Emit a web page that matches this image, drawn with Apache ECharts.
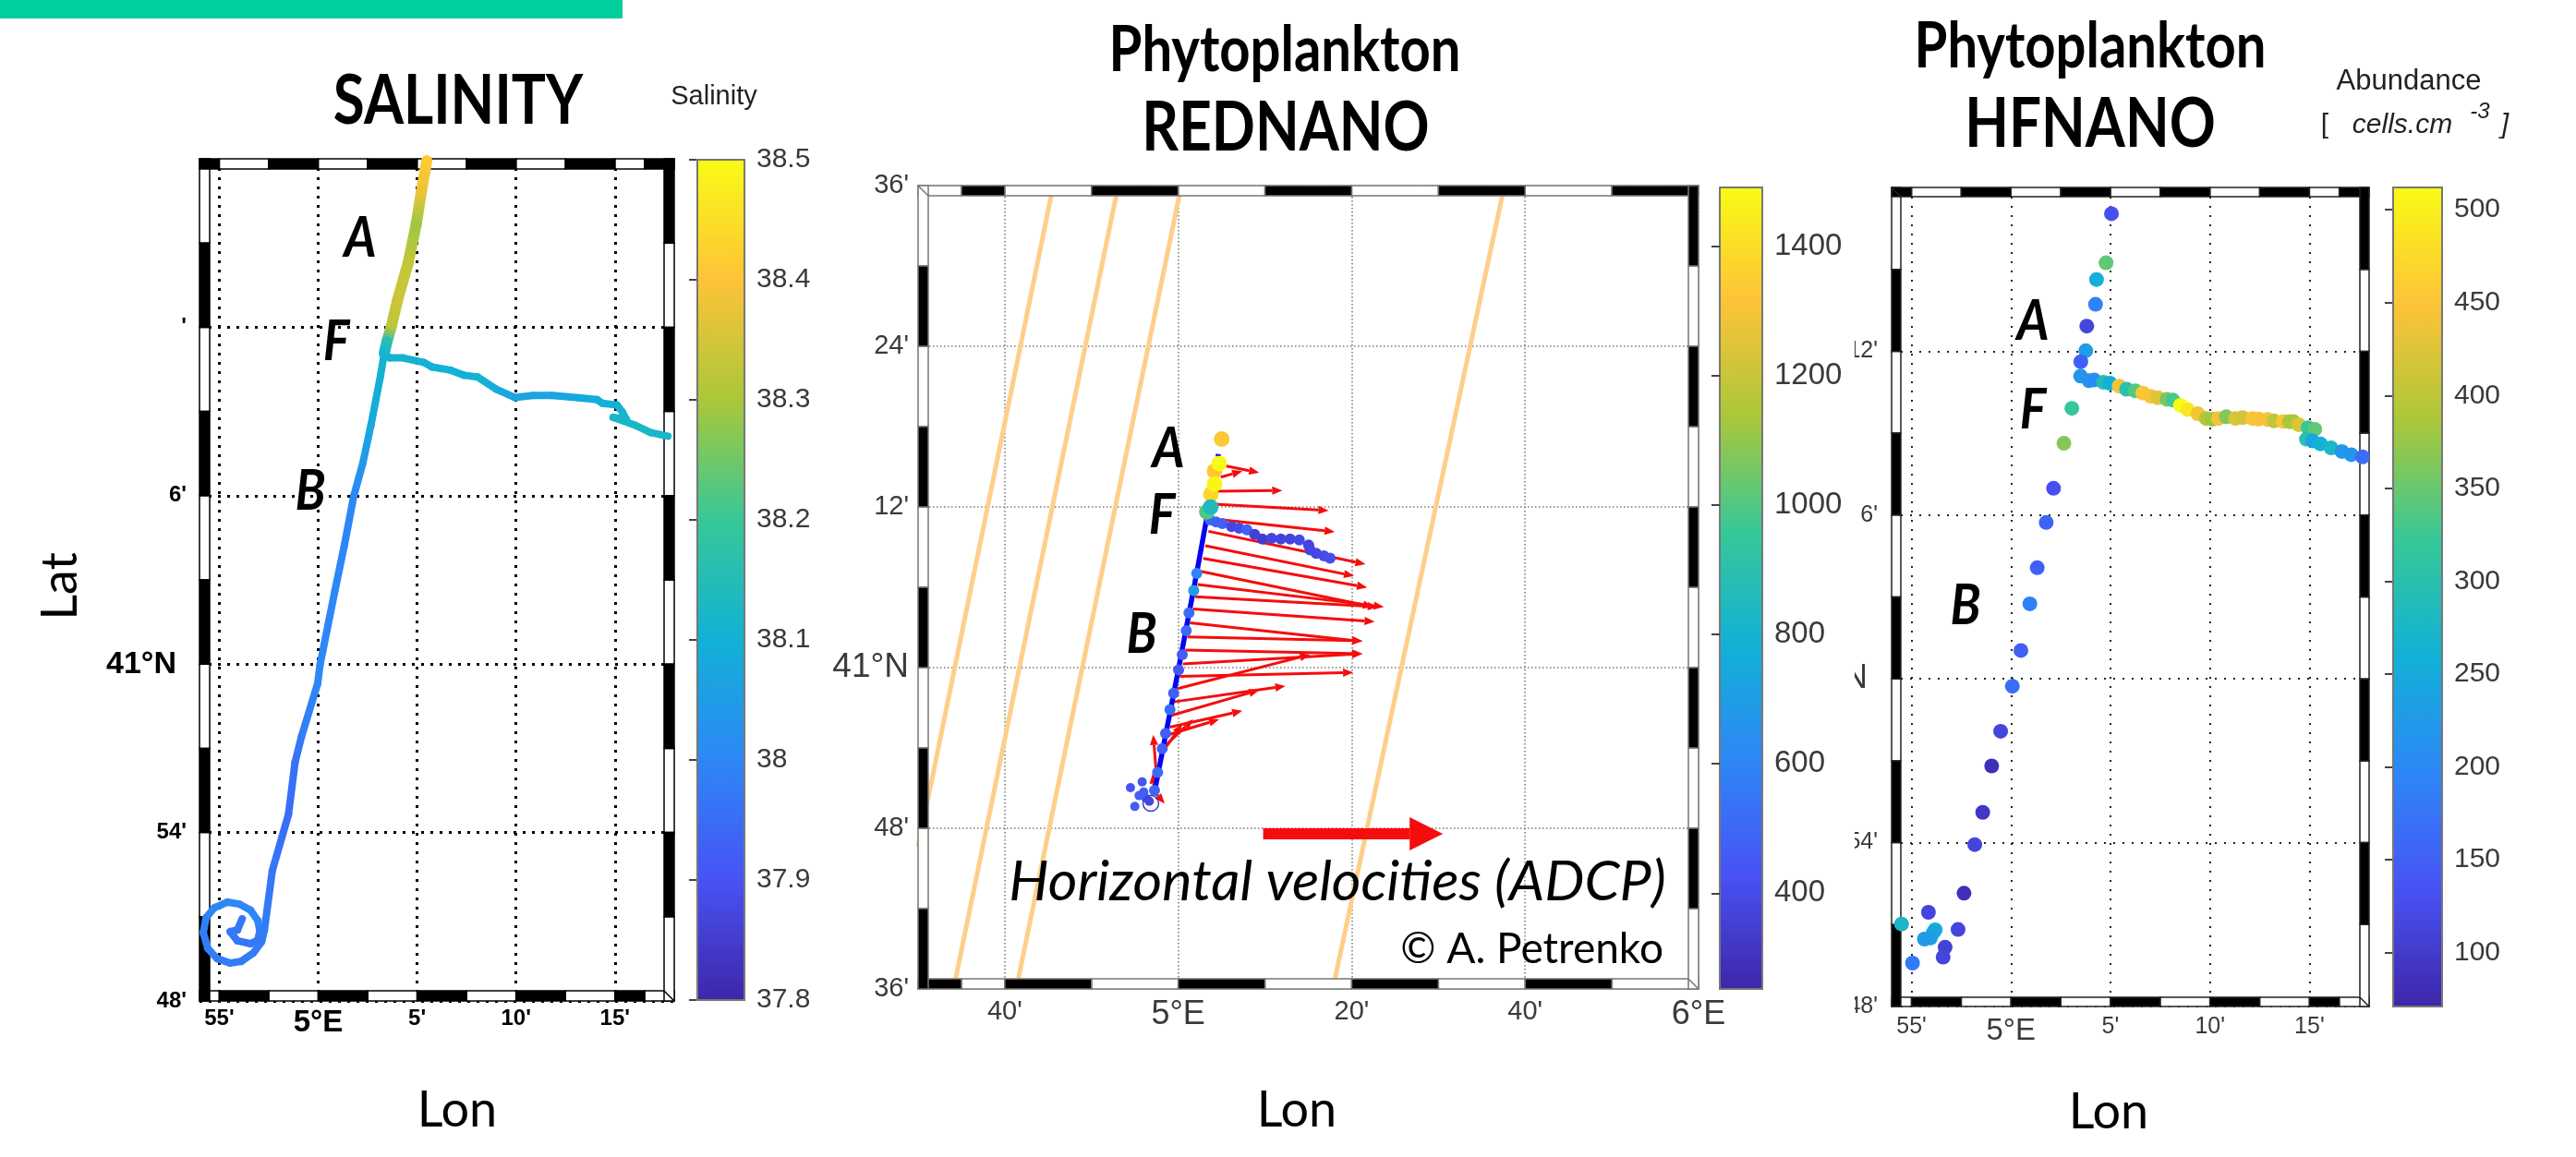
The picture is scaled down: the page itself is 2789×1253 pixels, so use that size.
<!DOCTYPE html>
<html>
<head>
<meta charset="utf-8">
<style>
  html, body { margin: 0; padding: 0; background: #fff; }
  #chart { width: 2789px; height: 1253px; }
</style>
<script src="https://cdn.jsdelivr.net/npm/echarts@6/dist/echarts.min.js"></script>
</head>
<body>
<div id="chart"></div>
<script>
// positions are minutes of arc from 5°E / 41°N

const parulaStops = ["#3e26a8", "#4852f4", "#2d87f7", "#12b1d6", "#37c897", "#abc739", "#fec338", "#f9fb15"];

// --- SALINITY panel
const salLonRange = [-6, 18];
const salLatRange = [-12, 18];
const salRange = [37.8, 38.5];
const salLonTicks = [-5, 0, 5, 10, 15];
const salLonLabels = ["55'", "5°E", "5'", "10'", "15'"];
const salLatTicks = [-12, -6, 0, 6, 12];
const salLatLabels = ["48'", "54'", "41°N", "6'", "'"];
const salLonStripes = [-6, -5, -2.5, 0, 2.5, 5, 7.5, 10, 12.5, 15, 16.5, 18];
const salLatStripes = [-12, -9, -6, -3, 0, 3, 6, 9, 12, 15, 18];
const salBarTicks = [37.8, 37.9, 38, 38.1, 38.2, 38.3, 38.4, 38.5];
// [lon, lat, salinity]
const salLegA = [
  [5.49, 17.93, 38.41], [5.22, 16.85, 38.38], [4.95, 15.65, 38.29], [4.55, 14.3, 38.33],
  [4.01, 12.96, 38.34], [3.69, 12.0, 38.32], [3.47, 11.48, 38.16], [3.34, 11.07, 38.11],
];
const salLegB = [
  [3.34, 11.07, 38.11], [3.15, 10.27, 38.1], [2.67, 8.52, 38.08], [2.26, 7.17, 38.04],
  [1.8, 5.99, 38.0], [1.32, 4.22, 38.0], [0.85, 2.63, 38.0], [0.1, 0.0, 38.0],
  [-0.03, -0.7, 38.0], [-0.84, -2.57, 37.98], [-1.17, -3.5, 37.96], [-1.5, -5.35, 37.95],
  [-2.32, -7.36, 37.97], [-2.72, -9.48, 37.98], [-2.86, -9.89, 37.98], [-3.28, -10.29, 37.98],
  [-3.89, -10.59, 37.98], [-4.45, -10.65, 37.98], [-5.11, -10.49, 37.98], [-5.58, -10.13, 37.98],
  [-5.81, -9.57, 37.98], [-5.67, -9.04, 37.99], [-5.25, -8.68, 38.0], [-4.59, -8.48, 38.0],
  [-3.98, -8.55, 38.0], [-3.42, -8.77, 38.0], [-3.05, -9.14, 38.0], [-2.95, -9.5, 37.98],
  [-3.05, -9.83, 37.97], [-3.42, -9.96, 37.97], [-4.08, -9.86, 37.97], [-4.45, -9.53, 37.97],
  [-4.08, -9.47, 37.97], [-3.84, -9.07, 37.97],
];
const salLegF = [
  [3.34, 11.07, 38.11], [3.61, 10.91, 38.11], [4.28, 10.91, 38.11], [5.36, 10.74, 38.1],
  [5.76, 10.58, 38.1], [6.7, 10.47, 38.1], [7.38, 10.29, 38.1], [8.05, 10.23, 38.11],
  [8.99, 9.8, 38.09], [9.93, 9.5, 38.07], [10.87, 9.57, 38.07], [11.82, 9.57, 38.07],
  [13.16, 9.49, 38.08], [14.1, 9.42, 38.09], [14.37, 9.29, 38.1], [15.1, 9.23, 38.1],
  [15.37, 8.99, 38.11], [15.58, 8.72, 38.12], [14.91, 8.79, 38.12], [15.99, 8.52, 38.12],
  [16.8, 8.25, 38.12], [17.68, 8.12, 38.12],
];

// --- REDNANO panel
const redLonRange = [-30, 60];
const redLatRange = [-24, 36];
const redRange = [252, 1491];
const redLonTicks = [-20, 0, 20, 40, 60];
const redLonLabels = ["40'", "5°E", "20'", "40'", "6°E"];
const redLatTicks = [-24, -12, 0, 12, 24, 36];
const redLatLabels = ["36'", "48'", "41°N", "12'", "24'", "36'"];
const redLonStripes = [-30, -25, -20, -10, 0, 10, 20, 30, 40, 50, 60];
const redLatStripes = [-24, -18, -12, -6, 0, 6, 12, 18, 24, 30, 36];
const redBarTicks = [400, 600, 800, 1000, 1200, 1400];
// ship tracks, [lon0, lat0, lon1, lat1]
const shipTracks = [
  [-14.57, 35.5, -30, -13.4],
  [-7.08, 35.5, -25.66, -23.2],
  [0.2, 35.5, -18.43, -23.2],
  [37.45, 35.5, 18.08, -23.2],
];
// ADCP arrows, [lon0, lat0, lon1, lat1]
const velocityArrows = [
  [5.44, 15.07, 9.34, 14.56], [4.9, 14.22, 7.39, 14.68], [4.62, 13.18, 12.01, 13.23],
  [4.19, 12.21, 17.34, 11.73], [5.08, 11.04, 18.05, 10.14], [3.48, 10.18, 21.6, 7.72],
  [3.13, 9.1, 20.28, 6.84], [2.88, 8.16, 21.78, 5.99], [2.59, 7.19, 22.49, 4.54],
  [2.24, 6.2, 23.73, 4.54], [1.95, 5.3, 23.02, 4.54], [1.71, 4.38, 22.66, 3.43],
  [1.35, 3.34, 21.24, 1.96], [1.07, 2.3, 21.24, 2.0], [0.82, 1.31, 21.24, 1.04],
  [0.53, 0.28, 21.24, 1.04], [0.18, -0.65, 20.18, -0.37], [-0.07, -1.57, 15.2, 0.97],
  [-0.53, -2.56, 12.36, -1.38], [-0.78, -3.57, 9.34, -1.68], [-0.96, -4.45, 7.39, -3.23],
  [-1.14, -5.02, 4.72, -3.87], [-1.49, -5.83, 1.71, -3.87], [-1.67, -6.18, 0.46, -4.22],
  [-2.56, -7.67, -2.88, -5.02], [-2.74, -9.29, -2.95, -7.9], [-2.74, -9.29, -1.56, -10.16],
];
const scaleArrow = [[9.79, -12.41, 30.52, -12.41]];
const redTrackLine = [[4.65, 15.94], [3.3, 11.22], [2.13, 7.07], [0.04, -0.07], [-2.74, -9.29]];
// [lon, lat, abundance]
const redTopDots = [
  [5.01, 17.07, 1330], [4.19, 14.68, 1330], [4.72, 15.25, 1490], [3.77, 12.95, 1370],
  [4.19, 13.71, 1470], [3.3, 11.64, 1000], [3.73, 11.98, 850],
];
const redEastDots = [
  [3.66, 11.04, 500], [4.37, 10.88, 480], [5.08, 10.76, 470], [6.15, 10.53, 380],
  [7.03, 10.41, 400], [7.92, 10.3, 480], [8.81, 9.95, 360], [9.7, 9.61, 340],
  [10.76, 9.65, 380], [11.83, 9.61, 370], [12.9, 9.61, 375], [13.96, 9.54, 390],
  [15.03, 9.15, 370], [15.2, 8.8, 380], [15.91, 8.53, 390], [16.8, 8.34, 400], [17.51, 8.18, 410],
];
const redSouthDots = [
  [2.13, 7.03, 600], [1.78, 5.76, 700], [1.24, 4.08, 520], [0.92, 2.76, 510],
  [0.46, 0.97, 470], [0.04, -0.18, 440], [-0.53, -1.91, 480], [-0.96, -3.13, 520],
  [-1.46, -4.91, 470], [-1.85, -6.06, 470], [-2.38, -7.83, 520], [-2.74, -9.17, 500],
];
const redClusterDots = [
  [-5.51, -8.96, 430], [-4.16, -8.53, 440], [-4.51, -9.56, 480], [-3.98, -9.29, 470],
  [-3.73, -9.75, 470], [-5.01, -10.37, 470], [-3.34, -9.98, 380],
];
const redRing = [[-3.16, -10.14]];

// --- HFNANO panel
const hfLonRange = [-6, 18];
const hfLatRange = [-12, 18];
const hfRange = [71, 512];
const hfLonTicks = [-5, 0, 5, 10, 15];
const hfLonLabels = ["55'", "5°E", "5'", "10'", "15'"];
const hfLatTicks = [-12, -6, 0, 6, 12];
const hfLatLabels = ["48'", "54'", "41°N", "6'", "12'"];
const hfBarTicks = [100, 150, 200, 250, 300, 350, 400, 450, 500];
const hfDots = [
  [5.05, 17.04, 130], [4.78, 15.24, 345], [4.3, 14.63, 255], [4.25, 13.72, 190],
  [3.81, 12.92, 115], [3.76, 12.02, 230], [3.51, 11.62, 150],
  [3.5, 11.09, 220], [3.92, 10.92, 215], [4.18, 10.95, 205], [4.65, 10.86, 290],
  [4.97, 10.83, 260], [5.44, 10.72, 440], [5.81, 10.61, 300], [6.25, 10.55, 340],
  [6.63, 10.47, 450], [7.02, 10.35, 445], [7.38, 10.3, 425], [7.84, 10.24, 360],
  [8.14, 10.21, 330], [8.52, 10.02, 512], [8.88, 9.87, 490], [9.39, 9.71, 440],
  [9.81, 9.54, 395], [10.12, 9.51, 380], [10.43, 9.54, 440], [10.82, 9.6, 365],
  [11.28, 9.54, 420], [11.63, 9.57, 415], [12.14, 9.54, 445], [12.45, 9.52, 445],
  [12.91, 9.5, 440], [13.22, 9.45, 405], [13.69, 9.43, 450], [14.0, 9.42, 385],
  [14.18, 9.43, 385], [14.46, 9.31, 420], [14.93, 9.2, 320], [15.27, 9.14, 345],
  [14.85, 8.78, 300], [15.16, 8.72, 240], [15.55, 8.61, 260], [16.09, 8.46, 275],
  [16.63, 8.33, 220], [17.1, 8.21, 220], [17.67, 8.13, 165],
  [3.06, 9.91, 320], [2.66, 8.63, 365], [2.14, 6.98, 130], [1.77, 5.73, 155],
  [1.32, 4.07, 150], [0.95, 2.75, 190], [0.5, 1.04, 150], [0.07, -0.27, 165],
  [-0.52, -1.92, 115], [-0.97, -3.19, 85], [-1.42, -4.89, 95], [-1.82, -6.07, 115],
  [-2.36, -7.85, 85], [-4.15, -8.55, 115], [-2.66, -9.18, 115], [-5.5, -8.98, 275],
  [-3.81, -9.19, 250], [-3.91, -9.3, 240], [-4.05, -9.49, 230], [-4.35, -9.53, 225],
  [-3.31, -9.83, 110], [-3.41, -10.19, 115], [-4.95, -10.41, 180],
];

const TITLE_FONT = "Lato";
const AXIS_FONT = "Liberation Sans";
const RED = "#f50d0d";

function hexToRgb(hex) {
  return [1, 3, 5].map((i) => parseInt(hex.slice(i, i + 2), 16));
}

function parula(t) {
  const pos = Math.min(Math.max(t, 0), 1) * (parulaStops.length - 1);
  const i = Math.min(Math.floor(pos), parulaStops.length - 2);
  const a = hexToRgb(parulaStops[i]);
  const b = hexToRgb(parulaStops[i + 1]);
  const c = a.map((v, k) => Math.round(v + (b[k] - v) * (pos - i)));
  return `rgb(${c.join(",")})`;
}

function colorOf(range) {
  return (params) => parula((params.data[2] - range[0]) / (range[1] - range[0]));
}

const grids = [
  { left: 216, top: 172, width: 514, height: 912 },
  { left: 755, top: 173, width: 51, height: 910 },
  { left: 994, top: 201, width: 845, height: 870 },
  { left: 1862, top: 203, width: 46, height: 868 },
  { left: 2048, top: 203, width: 517, height: 887 },
  { left: 2591, top: 203, width: 53, height: 887 },
];

function tickFormatter(ticks, labels) {
  return (value) => {
    const text = labels[ticks.indexOf(value)];
    return /[EN]$/.test(text) ? `{big|${text}}` : text;
  };
}

function mapXAxis(gridIndex, range, ticks, labels, split, font) {
  return {
    gridIndex,
    type: "value",
    min: range[0],
    max: range[1],
    axisLine: { show: false },
    axisTick: { show: false, customValues: ticks },
    splitLine: { show: true, lineStyle: split },
    axisLabel: {
      customValues: ticks,
      formatter: tickFormatter(ticks, labels),
      margin: font.margin,
      fontFamily: AXIS_FONT,
      fontSize: font.size,
      fontWeight: font.weight,
      color: font.color,
      rich: { big: { fontFamily: AXIS_FONT, fontSize: font.big, fontWeight: font.weight, color: font.color } },
    },
  };
}

function mapYAxis(gridIndex, range, ticks, labels, split, font) {
  return {
    gridIndex,
    type: "value",
    min: range[0],
    max: range[1],
    axisLine: { show: false },
    axisTick: { show: false, customValues: ticks },
    splitLine: { show: true, lineStyle: split },
    axisLabel: {
      customValues: ticks,
      formatter: tickFormatter(ticks, labels),
      margin: font.yMargin,
      fontFamily: AXIS_FONT,
      fontSize: font.size,
      fontWeight: font.weight,
      color: font.color,
      rich: {
        big: {
          fontFamily: AXIS_FONT,
          fontSize: font.bigY,
          fontWeight: font.weight,
          color: font.color,
          padding: [0, font.bigPad, 0, 0],
        },
      },
    },
  };
}

function barXAxis(gridIndex) {
  return { gridIndex, type: "value", min: 0, max: 1, show: false };
}

function barYAxis(gridIndex, range, ticks, fontSize, z) {
  return {
    gridIndex,
    type: "value",
    position: "right",
    min: range[0],
    max: range[1],
    z,
    axisLine: { show: false },
    axisTick: {
      show: true,
      inside: true,
      length: 9,
      customValues: ticks,
      lineStyle: { color: "#444", width: 2 },
    },
    splitLine: { show: false },
    axisLabel: {
      customValues: ticks,
      formatter: (value) => String(value),
      margin: 13,
      fontFamily: AXIS_FONT,
      fontSize,
      color: "#3a3a3a",
    },
  };
}

function colorBarSeries(axisIndex) {
  return {
    type: "custom",
    xAxisIndex: axisIndex,
    yAxisIndex: axisIndex,
    data: [[0, 0]],
    silent: true,
    renderItem: (params) => {
      const cs = params.coordSys;
      return {
        type: "rect",
        shape: { x: cs.x, y: cs.y, width: cs.width, height: cs.height },
        style: {
          stroke: "#777",
          lineWidth: 2,
          fill: new echarts.graphic.LinearGradient(
            0, 1, 0, 0,
            parulaStops.map((color, i) => ({ offset: i / (parulaStops.length - 1), color })),
          ),
        },
      };
    },
  };
}

// the black and white checked frame of the map
function frameSeries(axisIndex, lonStripes, latStripes, whiteFirstOnTop, band, edge) {
  const data = [];
  for (let i = 0; i < lonStripes.length - 1; i++) {
    const topWhite = (i % 2 === 0) === whiteFirstOnTop;
    data.push([0, lonStripes[i], lonStripes[i + 1], topWhite ? 1 : 0]);
    data.push([1, lonStripes[i], lonStripes[i + 1], topWhite ? 0 : 1]);
  }
  for (let i = 0; i < latStripes.length - 1; i++) {
    const leftWhite = i % 2 === 1;
    data.push([2, latStripes[i], latStripes[i + 1], leftWhite ? 1 : 0]);
    data.push([3, latStripes[i], latStripes[i + 1], leftWhite ? 0 : 1]);
  }
  data.sort((a, b) => b[3] - a[3]);
  data.push([4, 0, 0, 0], [5, 0, 0, 0]);
  return {
    type: "custom",
    xAxisIndex: axisIndex,
    yAxisIndex: axisIndex,
    z: 3,
    silent: true,
    data,
    renderItem: (params, api) => {
      const cs = params.coordSys;
      const side = api.value(0);
      const a = api.value(1);
      const b = api.value(2);
      const fill = api.value(3) ? "#fff" : "#000";
      let shape;
      if (side === 4 || side === 5) {
        const [x, y, d] = side === 4 ? [cs.x, cs.y, band] : [cs.x + cs.width, cs.y + cs.height, -band];
        return {
          type: "line",
          shape: { x1: x, y1: y, x2: x + d, y2: y + d },
          style: { stroke: edge, lineWidth: 1.5 },
        };
      }
      if (side < 2) {
        const x0 = api.coord([a, 0])[0];
        const x1 = api.coord([b, 0])[0];
        shape = { x: x0, y: side === 0 ? cs.y : cs.y + cs.height - band, width: x1 - x0, height: band };
      } else {
        const y0 = api.coord([0, a])[1];
        const y1 = api.coord([0, b])[1];
        shape = { x: side === 2 ? cs.x : cs.x + cs.width - band, y: y1, width: band, height: y0 - y1 };
      }
      return { type: "rect", shape, style: { fill, stroke: edge, lineWidth: 1.5 } };
    },
  };
}

// a track coloured by salinity, one gradient piece per pair of vertices
function trackSeries(leg, width) {
  const data = leg.slice(1).map((p, i) => [...leg[i], ...p]);
  return {
    type: "custom",
    xAxisIndex: 0,
    yAxisIndex: 0,
    z: 5,
    silent: true,
    data,
    encode: { x: [0, 3], y: [1, 4] },
    renderItem: (params, api) => {
      const a = api.coord([api.value(0), api.value(1)]);
      const b = api.coord([api.value(3), api.value(4)]);
      const c0 = parula((api.value(2) - salRange[0]) / (salRange[1] - salRange[0]));
      const c1 = parula((api.value(5) - salRange[0]) / (salRange[1] - salRange[0]));
      return {
        type: "line",
        shape: { x1: a[0], y1: a[1], x2: b[0], y2: b[1] },
        style: {
          lineWidth: width,
          lineCap: "round",
          stroke: new echarts.graphic.LinearGradient(
            a[0], a[1], b[0], b[1],
            [{ offset: 0, color: c0 }, { offset: 1, color: c1 }],
            true,
          ),
        },
      };
    },
  };
}

function arrowSeries(data, headLen, headHalf, width) {
  return {
    type: "custom",
    xAxisIndex: 2,
    yAxisIndex: 2,
    z: 5,
    silent: true,
    data,
    encode: { x: [0, 2], y: [1, 3] },
    renderItem: (params, api) => {
      const a = api.coord([api.value(0), api.value(1)]);
      const b = api.coord([api.value(2), api.value(3)]);
      const len = Math.hypot(b[0] - a[0], b[1] - a[1]);
      const ux = (b[0] - a[0]) / len;
      const uy = (b[1] - a[1]) / len;
      const bx = b[0] - ux * headLen;
      const by = b[1] - uy * headLen;
      return {
        type: "group",
        children: [
          {
            type: "line",
            shape: { x1: a[0], y1: a[1], x2: bx, y2: by },
            style: { stroke: RED, lineWidth: width },
          },
          {
            type: "polygon",
            shape: {
              points: [
                b,
                [bx - uy * headHalf, by + ux * headHalf],
                [bx + uy * headHalf, by - ux * headHalf],
              ],
            },
            style: { fill: RED },
          },
        ],
      };
    },
  };
}

function dotSeries(axisIndex, data, size, range) {
  return {
    type: "scatter",
    xAxisIndex: axisIndex,
    yAxisIndex: axisIndex,
    z: 7,
    silent: true,
    symbolSize: size,
    itemStyle: { color: colorOf(range), opacity: 1 },
    data,
  };
}

function label(text, x, y, size, opts = {}) {
  return {
    type: "text",
    x,
    y,
    z: 30,
    silent: true,
    scaleY: opts.scaleY || 1,
    rotation: opts.rotation || 0,
    style: {
      text,
      fontFamily: opts.family || TITLE_FONT,
      fontSize: size,
      fontWeight: opts.weight || "normal",
      fontStyle: opts.style || "normal",
      fill: opts.color || "#000",
      align: opts.align || "center",
      verticalAlign: "middle",
    },
  };
}

function bold(text, x, y, size) {
  return label(text, x, y, size, { weight: "bold", scaleY: 1.2 });
}

function leg(text, x, y) {
  return label(text, x, y, 54, { weight: "bold", style: "italic", scaleY: 1.15 });
}

function barText(text, x, y, size, style) {
  return label(text, x, y, size, { family: AXIS_FONT, style, color: "#222" });
}

const salSplit = { color: "#000", type: [3, 7], width: 3 };
const redSplit = { color: "#777", type: [1.5, 2.5], width: 1.5 };
const hfSplit = { color: "#222", type: [2, 8], width: 2 };

const salFont = { size: 24, big: 33, bigY: 34, bigPad: 11, weight: "bold", color: "#000", margin: 7, yMargin: 14 };
const redFont = { size: 29, big: 36, bigY: 37, bigPad: 0, weight: "normal", color: "#3a3a3a", margin: 10, yMargin: 10 };
const hfFont = { size: 25, big: 33, bigY: 36, bigPad: 11, weight: "normal", color: "#3a3a3a", margin: 10, yMargin: 15 };

const chart = echarts.init(document.getElementById("chart"), null, { renderer: "canvas" });

chart.setOption({
  animation: false,
  backgroundColor: "#fff",
  grid: grids,
  xAxis: [
    mapXAxis(0, salLonRange, salLonTicks, salLonLabels, salSplit, salFont),
    barXAxis(1),
    mapXAxis(2, redLonRange, redLonTicks, redLonLabels, redSplit, redFont),
    barXAxis(3),
    mapXAxis(4, hfLonRange, hfLonTicks, hfLonLabels, hfSplit, hfFont),
    barXAxis(5),
  ],
  yAxis: [
    mapYAxis(0, salLatRange, salLatTicks, salLatLabels, salSplit, salFont),
    barYAxis(1, salRange, salBarTicks, 30, 1),
    mapYAxis(2, redLatRange, redLatTicks, redLatLabels, redSplit, redFont),
    barYAxis(3, redRange, redBarTicks, 33, 20),
    mapYAxis(4, hfLatRange, hfLatTicks, hfLatLabels, hfSplit, hfFont),
    barYAxis(5, hfRange, hfBarTicks, 30, 1),
  ],
  series: [
    // salinity
    frameSeries(0, salLonStripes, salLatStripes, false, 11, "#000"),
    trackSeries(salLegB, 8),
    trackSeries(salLegF, 8),
    trackSeries(salLegA, 12),
    colorBarSeries(1),

    // rednano
    {
      type: "custom",
      xAxisIndex: 2,
      yAxisIndex: 2,
      z: 1,
      silent: true,
      data: shipTracks,
      encode: { x: [0, 2], y: [1, 3] },
      renderItem: (params, api) => {
        const a = api.coord([api.value(0), api.value(1)]);
        const b = api.coord([api.value(2), api.value(3)]);
        return {
          type: "line",
          shape: { x1: a[0], y1: a[1], x2: b[0], y2: b[1] },
          style: { stroke: "#fdcf8c", lineWidth: 5 },
        };
      },
    },
    frameSeries(2, redLonStripes, redLatStripes, true, 11, "#777"),
    arrowSeries(velocityArrows, 11, 4.5, 3),
    arrowSeries(scaleArrow, 36, 18, 12),
    {
      type: "line",
      xAxisIndex: 2,
      yAxisIndex: 2,
      z: 6,
      silent: true,
      showSymbol: false,
      lineStyle: { color: "#0505f0", width: 5.5 },
      data: redTrackLine,
    },
    dotSeries(2, redEastDots, 12, redRange),
    dotSeries(2, redSouthDots, 12, redRange),
    dotSeries(2, redClusterDots, 10, redRange),
    dotSeries(2, redTopDots, 17, redRange),
    {
      type: "scatter",
      xAxisIndex: 2,
      yAxisIndex: 2,
      z: 7,
      silent: true,
      symbolSize: 17,
      itemStyle: { color: "rgba(0,0,0,0)", borderColor: "#3a3ad8", borderWidth: 1.5, opacity: 1 },
      data: redRing,
    },
    colorBarSeries(3),

    // hfnano
    frameSeries(4, salLonStripes, salLatStripes, false, 10, "#222"),
    dotSeries(4, hfDots, 16, hfRange),
    colorBarSeries(5),
  ],
  graphic: [
    { type: "rect", z: 30, silent: true, shape: { x: 0, y: 0, width: 674, height: 20 }, style: { fill: "#00ce9c" } },
    // the HFNANO map was pasted partly under the REDNANO colour bar, which cuts its latitude labels
    { type: "rect", z: 10, silent: true, shape: { x: 1940, y: 340, width: 68, height: 780 }, style: { fill: "#fff" } },

    bold("SALINITY", 496, 110, 62),
    bold("Phytoplankton", 1391, 55, 58),
    bold("REDNANO", 1392, 139, 62),
    bold("Phytoplankton", 2263, 51, 58),
    bold("HFNANO", 2263, 135, 62),

    label("Lat", 66, 635, 54, { rotation: Math.PI / 2 }),
    label("Lon", 495, 1203, 54),
    label("Lon", 1404, 1203, 54),
    label("Lon", 2283, 1205, 54),

    leg("A", 390, 258), leg("F", 364, 370), leg("B", 336, 532),
    leg("A", 1265, 486), leg("F", 1258, 558), leg("B", 1236, 687),
    leg("A", 2201, 348), leg("F", 2201, 444), leg("B", 2128, 656),

    label("Horizontal velocities (ADCP)", 1448, 955, 61, { style: "italic" }),
    label("© A. Petrenko", 1801, 1028, 46, { align: "right" }),

    barText("Salinity", 773, 105, 29),
    barText("Abundance", 2608, 88, 31),
    barText("[", 2517, 136, 30),
    barText("cells.cm", 2601, 136, 30, "italic"),
    barText("-3", 2685, 121, 24, "italic"),
    barText("]", 2712, 136, 30, "italic"),
  ],
});
</script>
</body>
</html>
